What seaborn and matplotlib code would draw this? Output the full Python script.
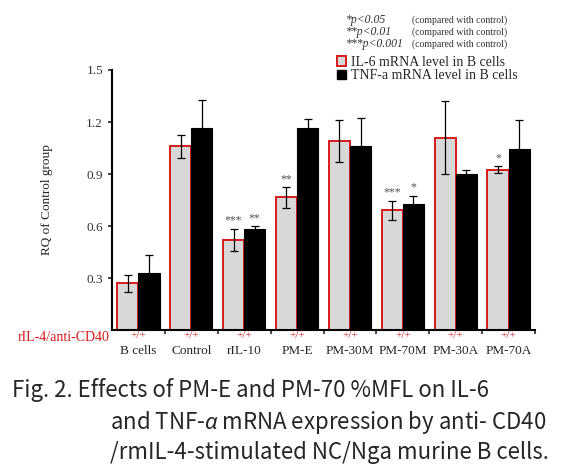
import pandas as pd
import numpy as np
import matplotlib
matplotlib.use("Agg")
import matplotlib.pyplot as plt
import seaborn as sns
from matplotlib.patches import Patch

# values
groups = ['B cells', 'Control', 'rIL-10', 'PM-E', 'PM-30M', 'PM-70M', 'PM-30A', 'PM-70A']
il6 = [0.27, 1.06, 0.52, 0.765, 1.09, 0.69, 1.11, 0.925]
il6_err = [0.05, 0.065, 0.065, 0.06, 0.12, 0.055, 0.21, 0.02]
tnf = [0.33, 1.165, 0.58, 1.165, 1.06, 0.725, 0.90, 1.045]
tnf_err = [0.10, 0.16, 0.02, 0.05, 0.165, 0.05, 0.025, 0.165]
il6_stars = ['', '', '***', '**', '', '***', '', '*']
tnf_stars = ['', '', '**', '', '', '*', '', '']
series = ['IL-6 mRNA level in B cells', 'TNF-a mRNA level in B cells']

df = pd.DataFrame({
    'group': groups * 2,
    'value': il6 + tnf,
    'series': [series[0]] * len(groups) + [series[1]] * len(groups),
})

sns.set_style('white')
plt.rcParams['font.family'] = ['Liberation Serif', 'DejaVu Serif']
plt.rcParams['mathtext.fontset'] = 'custom'
plt.rcParams['mathtext.it'] = 'Noto Sans:italic'
plt.rcParams['mathtext.rm'] = 'Noto Sans'

fig = plt.figure(figsize=(5.7, 4.72), dpi=100)
ax = fig.add_axes([0.1965, 0.3008, 0.7421, 0.5509])

sns.barplot(data=df, x='group', y='value', hue='series', order=groups,
            hue_order=series, palette=['#d8d8d8', 'black'], width=0.8,
            errorbar=None, legend=False, ax=ax)

n = len(groups)
for i, p in enumerate(ax.patches[:2 * n]):
    if i < n:
        p.set_edgecolor('#d7191c')
        p.set_linewidth(1.4)
    else:
        p.set_edgecolor('black')
        p.set_linewidth(0.8)

# error bars and stars
for k, (vals, errs, stars) in enumerate([(il6, il6_err, il6_stars), (tnf, tnf_err, tnf_stars)]):
    bars = ax.patches[k * n:(k + 1) * n]
    xs = [b.get_x() + b.get_width() / 2 for b in bars]
    ax.errorbar(xs, vals, yerr=errs, fmt='none', ecolor='black', elinewidth=0.9,
                capsize=3, capthick=0.9, zorder=5)
    for x, v, e, s in zip(xs, vals, errs, stars):
        if s:
            ax.text(x, v + e + 0.012, s, ha='center', va='bottom', fontsize=8.5,
                    color='#555555')

ax.set_ylim(0, 1.5)
ax.set_xlim(-0.5, 7.5)
ax.set_yticks([0.3, 0.6, 0.9, 1.2, 1.5])
ax.set_yticklabels(['0.3', '0.6', '0.9', '1.2', '1.5'], fontsize=9.5, color='#333333')
ax.set_ylabel('RQ of Control group', fontsize=9.5, color='#222222', labelpad=24)
ax.set_xlabel('')
ax.set_xticks(np.arange(n))
ax.set_xticklabels(groups, fontsize=9.5)
ax.tick_params(axis='x', which='major', length=0, pad=11)
ax.set_xticks(np.arange(n) + 0.5, minor=True)
ax.tick_params(axis='x', which='minor', length=3, width=1.2, direction='out', bottom=True)
ax.tick_params(axis='y', length=3, width=1.2, direction='out', left=True)

for s in ['top', 'right']:
    ax.spines[s].set_visible(False)
for s in ['left', 'bottom']:
    ax.spines[s].set_linewidth(1.5)
    ax.spines[s].set_color('black')

trans = ax.get_xaxis_transform()
for i in range(n):
    ax.text(i, -0.005, '+/+', transform=trans, ha='center', va='top',
            fontsize=8, color='#d7191c')
ax.text(-0.005, -0.005, 'rIL-4/anti-CD40', transform=ax.transAxes, ha='right',
        va='top', fontsize=10, color='#d7191c')

# significance notes
notes = ['*p<0.05', '**p<0.01', '***p<0.001']
for j, txt in enumerate(notes):
    y = 1 - (20 + 12 * j) / 472
    fig.text(346 / 570, y, txt, fontsize=8.5, style='italic',
             va='center', ha='left', color='#333333')
    fig.text(412 / 570, y, '(compared with control)', fontsize=7,
             va='center', ha='left', color='#333333')

handles = [Patch(facecolor='#d8d8d8', edgecolor='#d7191c', linewidth=1.4),
           Patch(facecolor='black', edgecolor='black')]
fig.legend(handles, series, loc='upper left', bbox_to_anchor=(327 / 570, 1 - 46 / 472),
           frameon=False, fontsize=10, handlelength=0.7, handleheight=0.7,
           handletextpad=0.3, labelspacing=0.05, borderpad=0.2)

# caption
cap_font = ['Noto Sans CJK KR', 'DejaVu Sans']
cap_kw = dict(family=cap_font, fontsize=16, va='center', ha='left')
fig.text(12 / 570, 1 - 390 / 472, 'Fig. 2. Effects of PM-E and PM-70 %MFL on IL-6', **cap_kw)
fig.text(110 / 570, 1 - 422 / 472, r'and TNF-$\alpha$ mRNA expression by anti- CD40', **cap_kw)
fig.text(110 / 570, 1 - 453 / 472, '/rmIL-4-stimulated NC/Nga murine B cells.', **cap_kw)

fig.savefig('out.png', dpi=100)
